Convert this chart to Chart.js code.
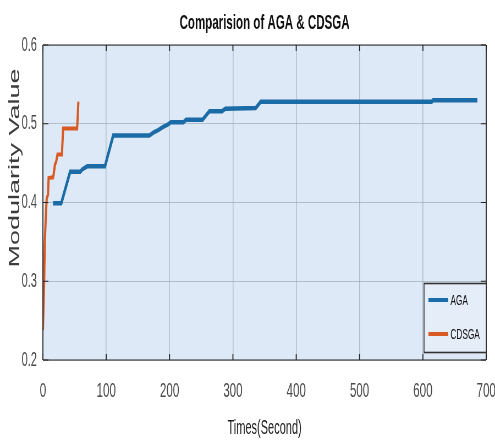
<!DOCTYPE html>
<html>
<head>
<meta charset="utf-8">
<script src="https://cdn.jsdelivr.net/npm/chart.js@4/dist/chart.umd.min.js"></script>
<style>
  html, body { margin: 0; padding: 0; background: #fff; overflow: hidden; }
  /* the source figure is a horizontally squeezed MATLAB export, so draw wide and squeeze */
  #wrap { width: 900px; height: 447px; transform: scaleX(0.55); transform-origin: 0 0; }
</style>
</head>
<body>
<div id="wrap"><canvas id="chart"></canvas></div>
<script>
// AGA run (time in seconds, modularity)
const agaTime  = [16, 29, 43, 59, 62, 70, 98, 111, 168, 175, 182, 190, 197, 202, 222, 226, 252, 263, 283, 288, 336, 344, 614, 616, 686];
const agaValue = [0.399, 0.399, 0.439, 0.439, 0.442, 0.446, 0.446, 0.485, 0.485, 0.489, 0.492, 0.496, 0.499, 0.502, 0.502, 0.505, 0.505, 0.516, 0.516, 0.519, 0.52, 0.528, 0.528, 0.53, 0.53];

// CDSGA run
const cdsgaTime  = [0, 1, 2, 3, 5, 6, 8, 9, 16, 17, 19, 21, 23, 30, 32, 54, 55, 56];
const cdsgaValue = [0.238, 0.27, 0.3, 0.35, 0.39, 0.405, 0.41, 0.431, 0.432, 0.436, 0.448, 0.452, 0.461, 0.461, 0.494, 0.494, 0.51, 0.528];

const seriesNames = ['AGA', 'CDSGA'];
const seriesColors = ['#1b6ca6', '#d95a22'];
const xTicks = [0, 100, 200, 300, 400, 500, 600, 700];
const yTicks = [0.2, 0.3, 0.4, 0.5, 0.6];

const sans = "'Liberation Sans', Arial, sans-serif";

function toPoints(xs, ys) {
  return xs.map((x, i) => ({ x: x, y: ys[i] }));
}

// light blue plot background
const plotBackground = {
  id: 'plotBackground',
  beforeDraw(chart) {
    const { ctx, chartArea: a } = chart;
    ctx.save();
    ctx.fillStyle = '#dde9f7';
    ctx.fillRect(a.left, a.top, a.right - a.left, a.bottom - a.top);
    ctx.restore();
  }
};

// matlab style box with inward ticks, titles and legend
const axesBox = {
  id: 'axesBox',
  afterDraw(chart) {
    const { ctx, chartArea: a, scales } = chart;
    ctx.save();
    ctx.strokeStyle = '#262626';
    ctx.lineWidth = 1.8;
    ctx.beginPath();
    ctx.moveTo(a.left, a.top); ctx.lineTo(a.left, a.bottom);
    ctx.moveTo(a.right, a.top); ctx.lineTo(a.right, a.bottom);
    ctx.stroke();
    ctx.lineWidth = 1.2;
    ctx.beginPath();
    ctx.moveTo(a.left, a.top); ctx.lineTo(a.right, a.top);
    ctx.moveTo(a.left, a.bottom); ctx.lineTo(a.right, a.bottom);
    ctx.stroke();

    ctx.lineWidth = 1.8;
    ctx.beginPath();
    xTicks.forEach(v => {
      const px = scales.x.getPixelForValue(v);
      ctx.moveTo(px, a.bottom); ctx.lineTo(px, a.bottom - 6);
      ctx.moveTo(px, a.top); ctx.lineTo(px, a.top + 6);
    });
    ctx.stroke();
    ctx.lineWidth = 1.2;
    ctx.beginPath();
    yTicks.forEach(v => {
      const py = scales.y.getPixelForValue(v);
      ctx.moveTo(a.left, py); ctx.lineTo(a.left + 10, py);
      ctx.moveTo(a.right, py); ctx.lineTo(a.right - 10, py);
    });
    ctx.stroke();

    // title
    ctx.fillStyle = '#111';
    ctx.font = "bold 21px " + sans;
    ctx.textAlign = 'center';
    ctx.textBaseline = 'middle';
    ctx.fillText('Comparision of AGA & CDSGA', (a.left + a.right) / 2, 23);

    // y axis title
    ctx.save();
    ctx.translate(28, 168);
    ctx.rotate(-Math.PI / 2);
    ctx.fillStyle = '#3c3c3c';
    ctx.font = "27px " + sans;
    ctx.fillText('Modularity Value', 0, 0);
    ctx.restore();

    // legend
    const lx = 771, ly = 283, lw = a.right - lx, lh = 69;
    ctx.fillStyle = '#e4edf8';
    ctx.fillRect(lx, ly, lw, lh);
    ctx.strokeStyle = '#333';
    ctx.lineWidth = 1.6;
    ctx.strokeRect(lx, ly + 0.5, lw, lh);
    ctx.font = "15px " + sans;
    ctx.textAlign = 'left';
    seriesNames.forEach((name, i) => {
      const y = ly + 17 + i * 34;
      ctx.strokeStyle = seriesColors[i];
      ctx.lineWidth = 4;
      ctx.beginPath();
      ctx.moveTo(lx + 8, y); ctx.lineTo(lx + 44, y);
      ctx.stroke();
      ctx.fillStyle = '#111';
      ctx.fillText(name, lx + 48, y + 1);
    });
    ctx.restore();
  }
};

new Chart(document.getElementById('chart'), {
  type: 'line',
  data: {
    datasets: [
      {
        label: seriesNames[0],
        data: toPoints(agaTime, agaValue),
        borderColor: seriesColors[0],
        borderWidth: 4.5,
        pointRadius: 0,
        tension: 0
      },
      {
        label: seriesNames[1],
        data: toPoints(cdsgaTime, cdsgaValue),
        borderColor: seriesColors[1],
        borderWidth: 4,
        pointRadius: 0,
        tension: 0
      }
    ]
  },
  options: {
    responsive: true,
    maintainAspectRatio: false,
    animation: false,
    layout: { autoPadding: false, padding: { top: 45, right: 16, left: 0, bottom: 0 } },
    plugins: {
      legend: { display: false },
      title: { display: false },
      tooltip: { enabled: false }
    },
    scales: {
      x: {
        type: 'linear',
        min: 0,
        max: 700,
        afterBuildTicks: s => { s.ticks = xTicks.map(v => ({ value: v })); },
        afterFit: s => { s.height = 87; s.paddingLeft = 0; s.paddingRight = 0; },
        grid: { color: 'rgba(150,160,172,0.6)', lineWidth: 1.6, drawTicks: false },
        border: { display: false },
        ticks: { padding: 19, color: '#4a4a4a', font: { family: sans, size: 21 } },
        title: {
          display: true,
          text: 'Times(Second)',
          color: '#222',
          padding: { top: 0, bottom: 7 },
          font: { family: sans, size: 20 }
        }
      },
      y: {
        min: 0.2,
        max: 0.6,
        afterBuildTicks: s => { s.ticks = yTicks.map(v => ({ value: v })); },
        afterFit: s => { s.width = 78; s.paddingTop = 0; s.paddingBottom = 0; },
        grid: { color: 'rgba(150,160,172,0.6)', drawTicks: false },
        border: { display: false },
        ticks: { padding: 11, color: '#4a4a4a', font: { family: sans, size: 20 }, callback: v => v.toFixed(1) }
      }
    }
  },
  plugins: [plotBackground, axesBox]
});
</script>
</body>
</html>
